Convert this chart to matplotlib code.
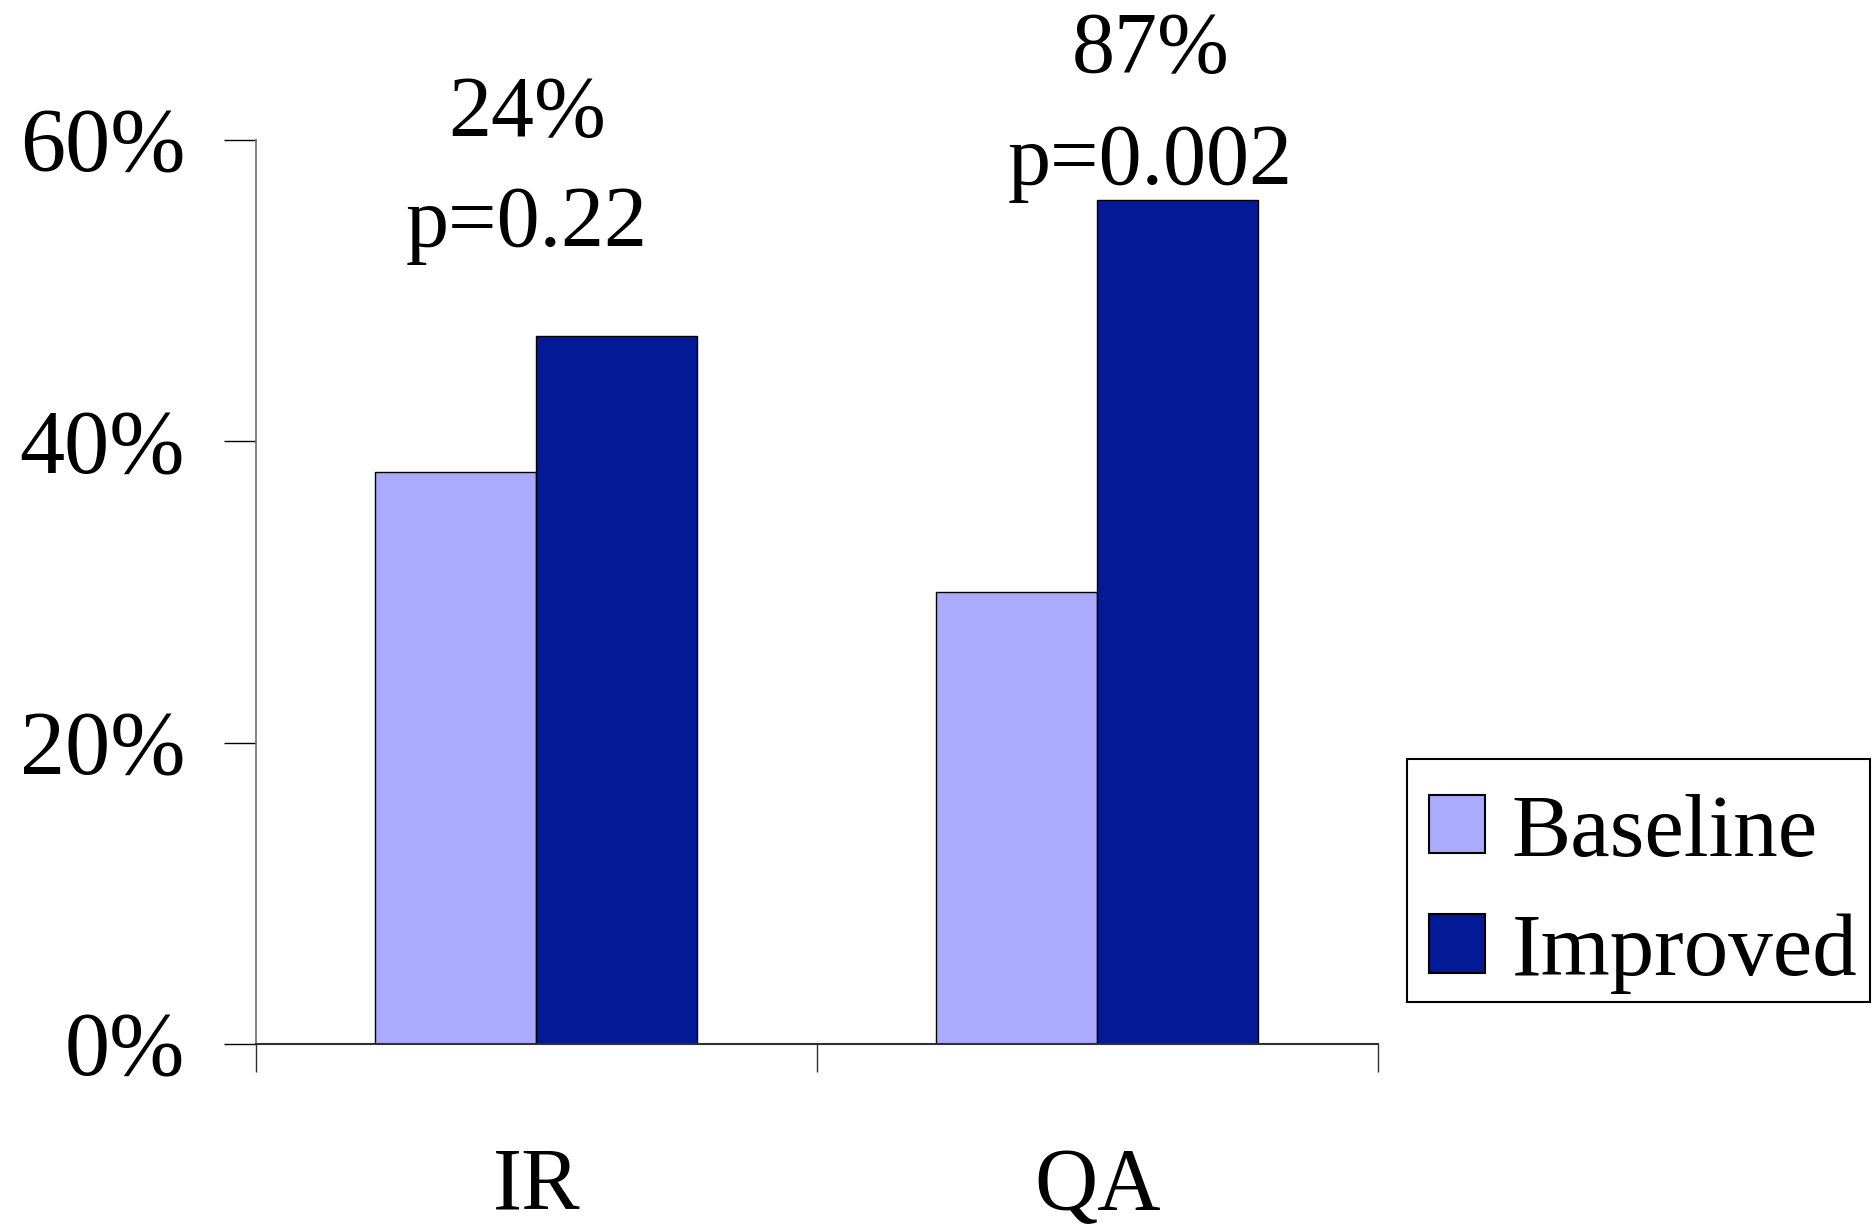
import numpy as np
import matplotlib.pyplot as plt
from matplotlib.patches import Rectangle
from matplotlib.ticker import FixedLocator, PercentFormatter

# Datos
categorias = ["IR", "QA"]
baseline = [0.38, 0.30]
improved = [0.47, 0.56]
mejoras = ["24%", "87%"]
p_valores = ["p=0.22", "p=0.002"]

plt.rcParams['font.family'] = ['Liberation Serif', 'DejaVu Serif']

color_base = '#aaabff'
color_mejor = '#041995'

fig = plt.figure(figsize=(18.74, 12.29), dpi=100)
ax = fig.add_axes([0.1366, 0.1505, 0.7353 - 0.1366, 0.886 - 0.1505])

x = np.arange(len(categorias))
ancho = 0.287
ax.bar(x - ancho / 2, baseline, ancho, color=color_base, edgecolor='black',
       linewidth=1, label="Baseline")
ax.bar(x + ancho / 2, improved, ancho, color=color_mejor, edgecolor='black',
       linewidth=1, label="Improved")

ax.set_xlim(-0.5, len(categorias) - 0.5)
ax.set_ylim(0, 0.6)

# Ejes
ax.spines['top'].set_visible(False)
ax.spines['right'].set_visible(False)
ax.spines['left'].set_color('#707070')
ax.spines['bottom'].set_color('#303030')
ax.spines['left'].set_linewidth(1.2)
ax.spines['bottom'].set_linewidth(1.5)

ax.set_yticks([0, 0.2, 0.4, 0.6])
ax.yaxis.set_major_formatter(PercentFormatter(1.0, decimals=0))
ax.tick_params(axis='y', length=23, width=1, color='black', pad=28,
               labelsize=65)

# marcas entre categorías y etiquetas centradas
ax.xaxis.set_major_locator(FixedLocator([-0.5, 0.5, 1.5]))
ax.xaxis.set_minor_locator(FixedLocator(x))
ax.xaxis.set_major_formatter(plt.NullFormatter())
ax.set_xticklabels(categorias, minor=True)
ax.tick_params(axis='x', which='major', length=20, width=1, color='#303030')
ax.tick_params(axis='x', which='minor', length=0, pad=74, labelsize=63)

# Anotaciones de mejora y valor p
texto_x = [-0.017, 1.094]
texto_y1 = [0.603, 0.645]
texto_y2 = [0.530, 0.571]
for i in range(len(categorias)):
    ax.text(texto_x[i], texto_y1[i], mejoras[i], ha='center', va='baseline',
            fontsize=62, clip_on=False)
    ax.text(texto_x[i], texto_y2[i], p_valores[i], ha='center', va='baseline',
            fontsize=62, clip_on=False)

# Leyenda con marco propio
leg = ax.legend(loc='lower left', bbox_to_anchor=(0.7508, 0.1733),
                bbox_transform=fig.transFigure, borderaxespad=0,
                fontsize=64, frameon=False,
                handlelength=0.63, handleheight=0.63,
                handletextpad=0.3, labelspacing=0.43, borderpad=0.25)
for h in leg.legend_handles:
    h.set_linewidth(1.5)
marco = Rectangle((0.7508, 0.1847), 0.2471, 0.1977, transform=fig.transFigure,
                  fill=False, edgecolor='black', linewidth=1.5)
fig.patches.append(marco)

fig.savefig("out.png", dpi=100)
